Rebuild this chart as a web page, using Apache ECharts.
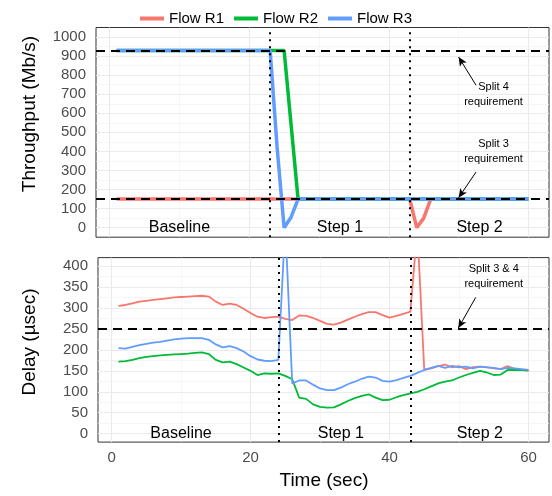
<!DOCTYPE html>
<html><head><meta charset="utf-8">
<script src="https://cdn.jsdelivr.net/npm/echarts@6/dist/echarts.min.js"></script>
<style>html,body{margin:0;padding:0;background:#fff}#c{width:552px;height:496px}</style>
</head><body><div id="c"></div>
<script>
// ---- data ----
const seriesNames = ['Flow R1', 'Flow R2', 'Flow R3'];
const time = [1,2,3,4,5,6,7,8,9,10,11,12,13,14,15,16,17,18,19,20,21,22,23,24,25,26,27,28,29,30,
  31,32,33,34,35,36,37,38,39,40,41,42,43,44,45,46,47,48,49,50,51,52,53,54,55,56,57,58,59,60];
// Throughput (Mb/s)
const thrR1 = [150,150,150,150,150,150,150,150,150,150,150,150,150,150,150,150,150,150,150,150,
  150,150,150,150,150,150,150,150,150,150,150,150,150,150,150,150,150,150,150,150,
  150,150,150,0,50,150,150,150,150,150,150,150,150,150,150,150,150,150,150,150];
const thrR2 = [930,930,930,930,930,930,930,930,930,930,930,930,930,930,930,930,930,930,930,930,
  930,930,930,930,930,540,150,150,150,150,150,150,150,150,150,150,150,150,150,150,
  150,150,150,150,150,150,150,150,150,150,150,150,150,150,150,150,150,150,150,150];
const thrR3 = [930,930,930,930,930,930,930,930,930,930,930,930,930,930,930,930,930,930,930,930,
  930,930,930,420,0,55,150,150,150,150,150,150,150,150,150,150,150,150,150,150,
  150,150,150,150,150,150,150,150,150,150,150,150,150,150,150,150,150,150,150,150];
// Delay (usec)
const delayR1 = [305,307,311,315,317,319,321,323,325,326,327,328,329,327,315,307,310,307,298,288,
  279,276,278,279,274,271,282,281,276,269,262,260,265,272,279,285,290,290,283,277,
  281,286,291,490,152,156,161,165,158,161,154,159,160,159,156,154,161,154,152,150];
const delayR2 = [172,173,176,180,183,185,187,188,189,190,191,193,194,190,176,170,172,166,158,150,
  140,144,143,144,138,130,86,83,70,64,62,63,70,78,85,90,94,86,80,81,
  87,92,96,100,106,113,120,124,127,134,140,145,150,146,140,141,152,152,152,151];
const delayR3 = [204,203,207,211,214,217,219,222,225,227,228,228,228,224,213,206,209,204,196,185,
  177,174,173,176,500,120,127,127,117,108,104,104,110,118,124,131,136,134,126,124,
  128,133,138,145,152,157,162,157,162,158,160,156,160,158,157,154,157,156,154,152];
// reference lines / annotations
const thrRequirements = [930, 150];
const delayRequirement = 250;
const thrStepTimes = [23, 43];
const delayStepTimes = [24, 43];
const phaseLabels = ['Baseline', 'Step 1', 'Step 2'];
const phaseTimes = [10, 33, 53];
const xTicks = [0, 20, 40, 60];
const thrTicks = [0,100,200,300,400,500,600,700,800,900,1000];
const delayTicks = [0,50,100,150,200,250,300,350,400];

const colors = ['#F8766D', '#00BA38', '#619CFF'];
const FONT = 'Liberation Sans, Arial, Helvetica, sans-serif';

function pairs(arr) { return time.map((t, i) => [t, arr[i]]); }

function gridLinesX(major, minor) {
  const out = [];
  minor.forEach(v => out.push({xAxis: v, lineStyle: {color: '#F2F2F2', width: 0.7, type: 'solid'}}));
  major.forEach(v => out.push({xAxis: v, lineStyle: {color: '#EBEBEB', width: 1.1, type: 'solid'}}));
  return out;
}
function gridLinesY(major, minor) {
  const out = [];
  minor.forEach(v => out.push({yAxis: v, lineStyle: {color: '#F2F2F2', width: 0.7, type: 'solid'}}));
  major.forEach(v => out.push({yAxis: v, lineStyle: {color: '#EBEBEB', width: 1.1, type: 'solid'}}));
  return out;
}
const thrMinor = [50,150,250,350,450,550,650,750,850,950];
const delayMinor = [25,75,125,175,225,275,325,375];
const xMinor = [10,30,50];

function gridSeries(idx, yMajor, yMinor) {
  return {
    type: 'line', name: 'grid' + idx, data: [], xAxisIndex: idx, yAxisIndex: idx, silent: true,
    markLine: {
      silent: true, symbol: 'none', z: 1, animation: false, label: {show: false},
      emphasis: {disabled: true},
      data: gridLinesX(xTicks, xMinor).concat(gridLinesY(yMajor, yMinor))
    }
  };
}

function textPoint(coord, text, size) {
  return {coord: coord, name: text, symbol: 'rect', symbolSize: 1,
    itemStyle: {color: 'rgba(0,0,0,0)'},
    label: {show: true, position: 'inside', formatter: '{b}', fontSize: size,
      lineHeight: size === 11 ? 15 : size + 2, color: '#000', fontFamily: FONT}};
}

const dashStyle = {color: '#000', width: 1.8, type: [9, 6]};
const dotStyle = {color: '#000', width: 2, type: [2, 5]};
const arrowStyle = {color: '#000', width: 1, type: 'solid'};

function annSeries(idx, reqs, steps, arrows, notes) {
  const data = [];
  reqs.forEach(v => data.push({yAxis: v, lineStyle: dashStyle, symbol: 'none'}));
  steps.forEach(v => data.push({xAxis: v, lineStyle: dotStyle, symbol: 'none'}));
  arrows.forEach(a => data.push([{coord: a[0], symbol: 'none', lineStyle: arrowStyle},
                                  {coord: a[1], symbol: 'arrow', symbolSize: [6, 9]}]));
  const pts = phaseLabels.map((p, i) => textPoint([phaseTimes[i], 0], p, 16));
  notes.forEach(n => pts.push(textPoint(n[0], n[1], 11)));
  return {
    type: 'line', name: 'ann' + idx, data: [], xAxisIndex: idx, yAxisIndex: idx, silent: true,
    markLine: {silent: true, symbol: 'none', z: 6, animation: false, label: {show: false},
      emphasis: {disabled: true}, data: data},
    markPoint: {silent: true, z: 7, animation: false, data: pts}
  };
}

const series = [gridSeries(0, thrTicks, thrMinor), gridSeries(1, delayTicks, delayMinor)];
[thrR1, thrR2, thrR3].forEach((arr, i) => series.push({
  type: 'line', name: seriesNames[i], data: pairs(arr), xAxisIndex: 0, yAxisIndex: 0,
  symbol: 'none', z: 3, lineStyle: {width: 3.5, color: colors[i]}, itemStyle: {color: colors[i]},
  emphasis: {disabled: true}
}));
[delayR1, delayR2, delayR3].forEach((arr, i) => series.push({
  type: 'line', name: seriesNames[i], data: pairs(arr), xAxisIndex: 1, yAxisIndex: 1,
  symbol: 'none', z: 3, lineStyle: {width: 1.8, color: colors[i]}, itemStyle: {color: colors[i]},
  emphasis: {disabled: true}
}));
series.push(annSeries(0, thrRequirements, thrStepTimes,
  [[[52.5, 747], [50, 895]], [[52.5, 292], [50, 157]]],
  [[[55, 700], 'Split 4\nrequirement'], [[55, 400], 'Split 3\nrequirement']]));
series.push(annSeries(1, [delayRequirement], delayStepTimes,
  [[[52.4, 325], [49.9, 252]]],
  [[[55, 374], 'Split 3 & 4\nrequirement']]));

const axisLabelStyle = {color: '#4D4D4D', fontSize: 15, fontFamily: FONT, formatter: v => String(v)};
function xAxis(idx, showLabels) {
  return {type: 'value', gridIndex: idx, min: -1.95, max: 62.95,
    axisLine: {show: false}, splitLine: {show: false},
    axisTick: {show: true, length: 4, lineStyle: {color: '#333', width: 1}, customValues: xTicks},
    axisLabel: Object.assign({show: showLabels, margin: 8, customValues: xTicks}, axisLabelStyle)};
}
function yAxis(idx, min, max, ticks) {
  return {type: 'value', gridIndex: idx, min: min, max: max,
    axisLine: {show: false}, splitLine: {show: false},
    axisTick: {show: true, length: 4, lineStyle: {color: '#333', width: 1}, customValues: ticks},
    axisLabel: Object.assign({show: true, margin: 10, customValues: ticks}, axisLabelStyle)};
}

const option = {
  animation: false,
  textStyle: {fontFamily: FONT},
  legend: {top: 6, left: 'center', data: seriesNames, icon: 'rect', itemWidth: 24, itemHeight: 4,
    itemGap: 10, textStyle: {fontSize: 15, color: '#000', fontFamily: FONT}},
  grid: [
    {left: 96, top: 27.5, width: 453, height: 209.7, show: true, borderColor: '#333', borderWidth: 1, backgroundColor: '#fff'},
    {left: 98, top: 257.6, width: 451, height: 184.5, show: true, borderColor: '#333', borderWidth: 1, backgroundColor: '#fff'}
  ],
  xAxis: [xAxis(0, false), xAxis(1, true)],
  yAxis: [yAxis(0, -50, 1050, thrTicks), yAxis(1, -20, 420, delayTicks)],
  graphic: [
    {type: 'text', x: 30, y: 114, rotation: Math.PI / 2,
      style: {text: 'Throughput (Mb/s)', fontSize: 19, fontFamily: FONT, fill: '#000', align: 'center', verticalAlign: 'middle'}},
    {type: 'text', x: 30, y: 342, rotation: Math.PI / 2,
      style: {text: 'Delay (µsec)', fontSize: 19, fontFamily: FONT, fill: '#000', align: 'center', verticalAlign: 'middle'}},
    {type: 'text', x: 324, y: 481,
      style: {text: 'Time (sec)', fontSize: 19, fontFamily: FONT, fill: '#000', align: 'center', verticalAlign: 'middle'}}
  ],
  series: series
};
const chart = echarts.init(document.getElementById('c'), null, {renderer: 'canvas'});
chart.setOption(option);
</script></body></html>
